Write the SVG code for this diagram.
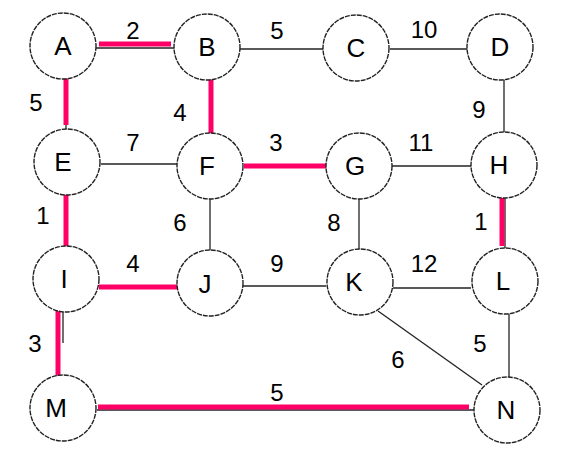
<svg xmlns="http://www.w3.org/2000/svg" width="565" height="462" viewBox="0 0 565 462">
<style>
.n circle{fill:#fff;stroke:#222;stroke-width:1.4;stroke-dasharray:5 1}
.n text{font-family:"Liberation Sans",Arial,sans-serif;font-size:26px;text-anchor:middle;fill:#000}
.e line{stroke:#222;stroke-width:1.3}
.e line.r{stroke:#ff0066;stroke-width:5}
.w{font-family:"Liberation Sans",Arial,sans-serif;font-size:24px;text-anchor:middle;fill:#000}
</style>
<rect width="565" height="462" fill="#fff"/>
<g id="edges" class="e">
<line x1="96" y1="48" x2="175" y2="48"/>
<line class="r" x1="99" y1="44" x2="171" y2="44"/>
<line class="r" x1="66" y1="77" x2="66" y2="125"/>
<line x1="66" y1="125" x2="66" y2="130"/>
<line x1="240" y1="49" x2="323" y2="49"/>
<line x1="390" y1="49" x2="468" y2="49"/>
<line class="r" x1="211" y1="77" x2="211" y2="134"/>
<line x1="101" y1="164" x2="177" y2="164"/>
<line class="r" x1="244" y1="166" x2="327" y2="166"/>
<line x1="392" y1="166" x2="471" y2="166"/>
<line x1="504" y1="80" x2="504" y2="133"/>
<line x1="505" y1="198" x2="505" y2="249"/>
<line class="r" x1="502" y1="198" x2="502" y2="246"/>
<line class="r" x1="66" y1="191" x2="66" y2="246"/>
<line x1="210" y1="199" x2="210" y2="251"/>
<line x1="359" y1="199" x2="359" y2="250"/>
<line class="r" x1="99" y1="287" x2="178" y2="287"/>
<line x1="243" y1="286" x2="326" y2="286"/>
<line x1="393" y1="288" x2="471" y2="288"/>
<line x1="63" y1="312" x2="63" y2="343"/>
<line class="r" x1="58" y1="310" x2="58" y2="376"/>
<line x1="97" y1="410" x2="474" y2="410"/>
<line class="r" x1="98" y1="407" x2="469" y2="407"/>
<line x1="378" y1="311" x2="482" y2="385"/>
<line x1="509" y1="314" x2="509" y2="377"/>
</g>
<g id="A" class="n"><circle cx="63" cy="46" r="33"/><text x="63" y="55">A</text></g>
<g id="B" class="n"><circle cx="207" cy="47" r="33"/><text x="207" y="56">B</text></g>
<g id="C" class="n"><circle cx="356" cy="48" r="33"/><text x="356" y="57">C</text></g>
<g id="D" class="n"><circle cx="500" cy="47" r="33"/><text x="500" y="56">D</text></g>
<g id="E" class="n"><circle cx="67" cy="162" r="33"/><text x="63" y="171">E</text></g>
<g id="F" class="n"><circle cx="210" cy="166" r="33"/><text x="207" y="175">F</text></g>
<g id="G" class="n"><circle cx="359" cy="166" r="33"/><text x="355" y="175">G</text></g>
<g id="H" class="n"><circle cx="504" cy="165" r="33"/><text x="499" y="174">H</text></g>
<g id="I" class="n"><circle cx="66" cy="279" r="33"/><text x="64" y="288">I</text></g>
<g id="J" class="n"><circle cx="210" cy="283" r="33"/><text x="205" y="293">J</text></g>
<g id="K" class="n"><circle cx="360" cy="282" r="33"/><text x="354" y="291">K</text></g>
<g id="L" class="n"><circle cx="505" cy="281" r="33"/><text x="503" y="290">L</text></g>
<g id="M" class="n"><circle cx="63" cy="408" r="33"/><text x="56" y="417">M</text></g>
<g id="N" class="n"><circle cx="507" cy="410" r="33"/><text x="506" y="419">N</text></g>
<g id="weights" class="w">
<text x="133" y="39">2</text>
<text x="277" y="39">5</text>
<text x="424" y="38">10</text>
<text x="36" y="111">5</text>
<text x="180" y="121">4</text>
<text x="133" y="151">7</text>
<text x="276" y="151">3</text>
<text x="421" y="151">11</text>
<text x="479" y="118">9</text>
<text x="43" y="224">1</text>
<text x="180" y="231">6</text>
<text x="334" y="231">8</text>
<text x="481" y="230">1</text>
<text x="133" y="272">4</text>
<text x="277" y="272">9</text>
<text x="424" y="272">12</text>
<text x="35" y="352">3</text>
<text x="277" y="401">5</text>
<text x="398" y="368">6</text>
<text x="480" y="352">5</text>
</g>
</svg>
